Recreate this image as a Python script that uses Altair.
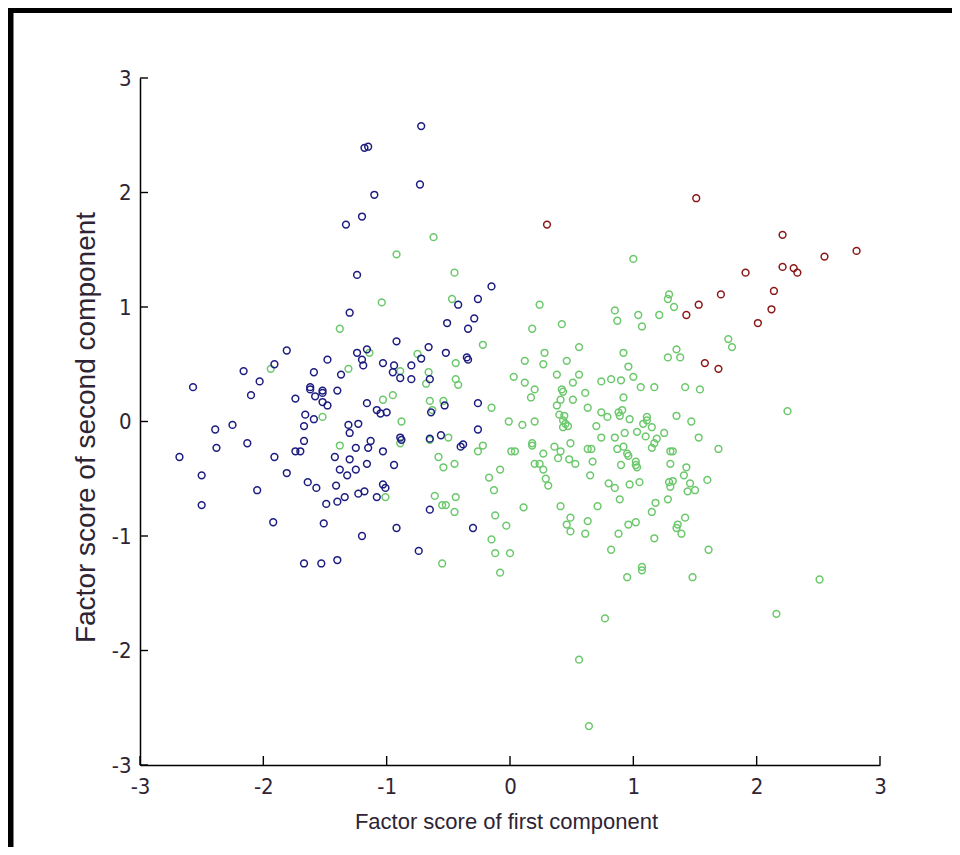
import altair as alt
import pandas as pd

# ---- data ----
green_points = [
    (-1.04, 1.04), (-1.38, 0.81),
    (-0.62, 1.61), (-0.92, 1.46), (1.00, 1.42), (-0.45, 1.30), (-0.47, 1.07), (0.24, 1.02),
    (0.18, 0.81), (0.42, 0.85), (0.85, 0.97), (0.87, 0.88), (1.04, 0.93),
    (1.29, 1.11), (1.28, 1.07), (1.33, 1.00), (1.21, 0.93), (1.07, 0.83),
    (-1.14, 0.60), (-1.94, 0.46), (-1.31, 0.46), (-1.03, 0.19), (-1.52, 0.04), (-1.38, -0.21), (-1.01, -0.66),
    (-0.22, 0.67), (-0.75, 0.59), (-0.44, 0.51), (-0.89, 0.44), (-0.66, 0.43), (-0.68, 0.33), (-0.44, 0.37),
    (-0.42, 0.32), (-0.95, 0.23), (-0.65, 0.18), (-0.54, 0.18), (-0.88, 0.00), (-0.63, 0.10), (-0.50, -0.14),
    (-0.65, -0.16), (-0.89, -0.19), (-0.22, -0.21), (-0.26, -0.26), (-0.58, -0.31), (-0.54, -0.40), (-0.45, -0.37),
    (-0.15, 0.12), (-0.01, 0.00), (0.10, -0.03), (0.20, 0.00), (0.03, 0.39), (0.12, 0.53), (0.12, 0.34),
    (0.20, 0.28), (0.17, 0.21), (0.28, 0.60), (0.27, 0.50), (0.46, 0.53), (0.56, 0.65), (0.38, 0.41),
    (0.56, 0.41), (0.51, 0.34), (0.42, 0.28), (0.43, 0.26), (0.61, 0.25), (0.41, 0.19), (0.51, 0.19),
    (0.38, 0.14), (0.63, 0.12), (0.40, 0.06), (0.44, 0.05), (0.43, 0.01), (0.45, -0.02), (0.43, -0.05),
    (0.47, -0.04), (0.70, -0.04), (0.74, 0.08), (0.79, 0.04), (0.74, 0.35), (0.82, 0.37), (0.90, 0.36),
    (0.92, 0.60), (0.96, 0.48), (1.00, 0.39), (0.92, 0.21), (0.88, 0.08), (0.91, 0.10), (0.89, 0.05),
    (0.97, 0.02), (0.93, -0.10), (1.03, -0.09), (0.85, -0.14), (0.74, -0.14), (0.49, -0.19), (0.36, -0.22),
    (0.41, -0.26), (0.39, -0.32), (0.48, -0.33), (0.53, -0.37), (0.63, -0.24), (0.66, -0.24), (0.67, -0.35),
    (0.65, -0.47), (0.87, -0.24), (0.92, -0.22), (0.95, -0.28), (0.96, -0.30), (0.90, -0.38), (1.02, -0.35),
    (1.02, -0.38), (1.03, -0.40), (0.97, -0.55), (0.80, -0.54), (0.85, -0.58), (0.89, -0.68), (0.71, -0.74),
    (0.41, -0.74), (0.49, -0.84), (0.46, -0.90), (0.49, -0.96), (0.63, -0.87), (0.61, -0.98), (0.88, -0.98),
    (0.96, -0.90), (1.02, -0.88), (0.82, -1.12),
    (0.18, -0.19), (0.18, -0.21), (0.27, -0.28), (0.20, -0.37), (0.24, -0.37), (0.27, -0.42), (0.29, -0.50),
    (0.31, -0.56), (0.01, -0.26), (0.04, -0.26), (-0.08, -0.42), (-0.17, -0.49), (-0.13, -0.60), (-0.03, -0.91),
    (-0.12, -0.82), (0.11, -0.75), (-0.15, -1.03), (-0.12, -1.15), (0.00, -1.15),
    (-0.61, -0.65), (-0.55, -0.73), (-0.52, -0.73), (-0.44, -0.66), (-0.45, -0.79), (-0.55, -1.24),
    (1.77, 0.72), (1.80, 0.65), (1.35, 0.63), (1.28, 0.56), (1.38, 0.56), (1.06, 0.30), (1.17, 0.30),
    (1.42, 0.30), (1.54, 0.28), (2.25, 0.09), (1.35, 0.05), (1.47, 0.00), (1.11, 0.04), (1.11, 0.01),
    (1.08, -0.02), (1.15, -0.05), (1.10, -0.13), (1.25, -0.10), (1.19, -0.15), (1.17, -0.19), (1.15, -0.23),
    (1.53, -0.14), (1.69, -0.24), (1.30, -0.26), (1.32, -0.26), (1.30, -0.37), (1.43, -0.40), (1.41, -0.47),
    (1.60, -0.51), (1.29, -0.53), (1.32, -0.52), (1.30, -0.57), (1.46, -0.54), (1.44, -0.61), (1.50, -0.60),
    (1.05, -0.53), (1.28, -0.68), (1.18, -0.71), (1.15, -0.79), (1.42, -0.84), (1.36, -0.90), (1.35, -0.93),
    (1.39, -0.98), (1.17, -1.02), (1.61, -1.12), (1.07, -1.27), (1.07, -1.30), (1.48, -1.36), (2.51, -1.38),
    (-0.08, -1.32), (0.95, -1.36), (0.77, -1.72), (2.16, -1.68), (0.56, -2.08), (0.64, -2.66),
]

navy_points = [
    (-1.18, 2.39), (-1.15, 2.40), (-1.10, 1.98), (-1.20, 1.79), (-1.33, 1.72), (-1.24, 1.28), (-1.30, 0.95),
    (-0.72, 2.58), (-0.73, 2.07), (-0.15, 1.18), (-0.42, 1.02), (-0.26, 1.07), (-0.51, 0.86), (-0.29, 0.90),
    (-0.34, 0.81),
    (-1.81, 0.62), (-1.48, 0.54), (-1.24, 0.60), (-1.16, 0.63), (-1.20, 0.54), (-1.19, 0.49), (-1.03, 0.51),
    (-2.16, 0.44), (-1.91, 0.50), (-1.59, 0.43), (-1.37, 0.41), (-2.03, 0.35), (-2.57, 0.30), (-2.10, 0.23),
    (-1.62, 0.30), (-1.62, 0.28), (-1.52, 0.27), (-1.52, 0.25), (-1.58, 0.22), (-1.52, 0.17), (-1.48, 0.14),
    (-1.40, 0.27), (-1.74, 0.20), (-1.16, 0.16), (-1.08, 0.10), (-1.05, 0.07), (-1.00, 0.08),
    (-1.66, 0.06), (-1.59, 0.02), (-1.67, -0.04),
    (-2.39, -0.07), (-2.25, -0.03), (-1.31, -0.03), (-1.30, -0.10), (-1.23, -0.02),
    (-2.13, -0.19), (-2.38, -0.23), (-2.68, -0.31), (-1.67, -0.17), (-1.74, -0.26), (-1.70, -0.26),
    (-1.25, -0.23), (-1.13, -0.17), (-1.15, -0.23), (-1.03, -0.26), (-1.91, -0.31), (-1.42, -0.31),
    (-1.30, -0.33), (-1.16, -0.37), (-1.38, -0.42), (-1.32, -0.47), (-1.25, -0.42), (-1.81, -0.45),
    (-2.50, -0.47), (-1.64, -0.53), (-1.57, -0.58), (-1.41, -0.56), (-2.05, -0.60),
    (-1.03, -0.55), (-1.01, -0.58), (-1.23, -0.63), (-1.18, -0.61), (-1.08, -0.66), (-1.49, -0.72),
    (-1.40, -0.70), (-1.34, -0.66), (-2.50, -0.73), (-1.92, -0.88), (-1.51, -0.89), (-1.20, -1.00),
    (-1.67, -1.24), (-1.53, -1.24), (-1.40, -1.21),
    (-0.92, 0.70), (-0.66, 0.65), (-0.52, 0.60), (-0.35, 0.56), (-0.34, 0.54), (-0.72, 0.55), (-0.80, 0.49),
    (-0.94, 0.49), (-0.95, 0.43), (-0.89, 0.38), (-0.80, 0.37), (-0.65, 0.37), (-0.53, 0.14), (-0.26, 0.16),
    (-0.64, 0.08), (-0.26, -0.07), (-0.89, -0.14), (-0.88, -0.16), (-0.65, -0.15), (-0.56, -0.12),
    (-0.40, -0.22), (-0.38, -0.20), (-0.94, -0.38), (-0.65, -0.77), (-0.92, -0.93), (-0.30, -0.93),
    (-0.74, -1.13),
]

red_points = [
    (0.30, 1.72), (1.51, 1.95), (2.21, 1.63), (2.81, 1.49), (2.55, 1.44), (1.91, 1.30), (2.21, 1.35),
    (2.30, 1.34), (2.33, 1.30), (2.14, 1.14), (1.71, 1.11), (1.53, 1.02), (1.43, 0.93), (2.12, 0.98),
    (2.01, 0.86), (1.58, 0.51), (1.69, 0.46),
]

groups = ["green", "navy", "red"]
group_colors = ["#6cc86c", "#1c1c80", "#8a1818"]
tick_values = [-3, -2, -1, 0, 1, 2, 3]
x_title = "Factor score of first component"
y_title = "Factor score of second component"

rows = []
for name, pts in zip(groups, [green_points, navy_points, red_points]):
    for x, y in pts:
        rows.append({"x": x, "y": y, "group": name})
df = pd.DataFrame(rows)

LABEL_FONT = "Liberation Sans Narrow, Arial Narrow, DejaVu Sans Condensed, Liberation Sans, sans-serif"
TITLE_FONT = "Liberation Sans, Arial, sans-serif"
TEXT_COLOR = "#2e2434"

xscale = alt.Scale(domain=[-3, 3], nice=False, zero=False)
yscale = alt.Scale(domain=[-3, 3], nice=False, zero=False)

x_axis = alt.Axis(
    values=tick_values, labelExpr="'' + datum.value", grid=False,
    ticks=False, tickSize=0, domainColor="black", domainWidth=1.5,
    labelFont=LABEL_FONT, labelFontSize=22, labelColor=TEXT_COLOR, labelPadding=11,
    labelFlush=False, labelOverlap=False,
    title=x_title, titleFont=TITLE_FONT, titleFontSize=22, titleFontWeight="normal",
    titleColor=TEXT_COLOR, titleBaseline="alphabetic", titleY=63, titleX=366,
)
y_axis = alt.Axis(
    values=tick_values, labelExpr="'' + datum.value", grid=False,
    ticks=False, tickSize=0, domainColor="black", domainWidth=1.5,
    labelFont=LABEL_FONT, labelFontSize=22, labelColor=TEXT_COLOR, labelPadding=9,
    labelFlush=False, labelOverlap=False,
    title=y_title, titleFont=TITLE_FONT, titleFontSize=28, titleFontWeight="normal",
    titleColor=TEXT_COLOR, titleBaseline="alphabetic", titleX=-46, titleY=349, titleAngle=-90,
)

points = alt.Chart(df).mark_point(
    shape="circle", filled=False, size=46, strokeWidth=1.5, opacity=1
).encode(
    x=alt.X("x:Q", scale=xscale, axis=x_axis),
    y=alt.Y("y:Q", scale=yscale, axis=y_axis),
    color=alt.Color("group:N", scale=alt.Scale(domain=groups, range=group_colors), legend=None),
)

# inward tick marks, positioned through the shared scales
x_ticks = alt.Chart(pd.DataFrame({"x": tick_values})).mark_rule(color="black", strokeWidth=1.4).encode(
    x=alt.X("x:Q", scale=xscale, axis=x_axis),
    y=alt.value(687), y2=alt.value(678),
)
y_ticks = alt.Chart(pd.DataFrame({"y": tick_values})).mark_rule(color="black", strokeWidth=1.4).encode(
    y=alt.Y("y:Q", scale=yscale, axis=y_axis),
    x=alt.value(0), x2=alt.value(8),
)

one = pd.DataFrame({"a": [0]})
frame_left = alt.Chart(one).mark_rule(color="black", strokeWidth=8).encode(
    x=alt.value(-130.5), y=alt.value(-90), y2=alt.value(800)
)
frame_top = alt.Chart(one).mark_rule(color="black", strokeWidth=7).encode(
    y=alt.value(-68.5), x=alt.value(-150), x2=alt.value(900)
)

chart = alt.layer(points, x_ticks, y_ticks, frame_left, frame_top).properties(
    width=740, height=687,
    padding={"left": 132, "top": 70, "right": 72, "bottom": 82},
    autosize=alt.AutoSizeParams(type="none"),
    background="white",
).configure_view(stroke=None)

chart.save("out.html", embed_options={"renderer": "svg", "actions": False})
